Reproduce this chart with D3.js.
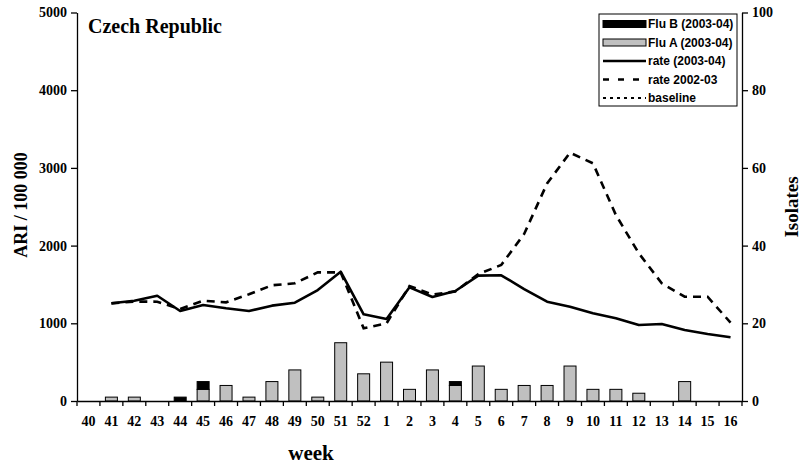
<!DOCTYPE html>
<html>
<head>
<meta charset="utf-8">
<script src="https://cdn.jsdelivr.net/npm/d3@7"></script>
<style>
  html, body { margin: 0; padding: 0; background: #fff; }
  svg { display: block; }
</style>
</head>
<body>
<svg id="chart" width="805" height="470"></svg>
<script>
// Weekly categories of the 2003-04 season
const weeks = ["40","41","42","43","44","45","46","47","48","49","50","51","52",
               "1","2","3","4","5","6","7","8","9","10","11","12","13","14","15","16"];

// Virus isolates per week (right axis)
const fluA = [0,1,1,0,0,3,4,1,5,8,1,15,7,10,3,8,4,9,3,4,4,9,3,3,2,0,5,0,0];
const fluB = [0,0,0,0,1,2,0,0,0,0,0,0,0,0,0,0,1,0,0,0,0,0,0,0,0,0,0,0,0];

// ARI rate per 100 000 (left axis); null = no value that week
const rate0304 = [null,1257,1290,1355,1158,1235,1193,1158,1227,1265,1428,1664,1116,
                  1055,1463,1338,1416,1613,1618,1441,1278,1214,1129,1064,978,991,914,862,820];
const rate0203 = [null,1257,1280,1278,1184,1291,1270,1373,1489,1515,1656,1656,936,
                  1000,1480,1370,1410,1634,1750,2150,2800,3196,3059,2394,1901,1515,1342,1342,1008];

const leftTicks = [0,1000,2000,3000,4000,5000];
const rightTicks = [0,20,40,60,80,100];

const legendItems = [
  {label: "Flu B (2003-04)", kind: "barB"},
  {label: "Flu A (2003-04)", kind: "barA"},
  {label: "rate (2003-04)", kind: "solid"},
  {label: "rate 2002-03", kind: "dash"},
  {label: "baseline", kind: "dot"}
];

const svg = d3.select("#chart");
const m = {left: 77, right: 742, top: 12.5, bottom: 401};
const serif = "'Liberation Serif','Times New Roman',serif";
const sans = "'Liberation Sans',Arial,sans-serif";

const x = d3.scaleBand().domain(weeks).range([m.left, m.right]);
const yL = d3.scaleLinear().domain([0, 5000]).range([m.bottom, m.top]);
const yR = d3.scaleLinear().domain([0, 100]).range([m.bottom, m.top]);

// Bars: stacked Flu A (bottom) and Flu B (top)
const barW = 12;
const bars = svg.append("g");
weeks.forEach((w, i) => {
  const cx = x(w) + x.bandwidth() / 2;
  if (fluA[i] > 0) {
    bars.append("rect")
      .attr("x", cx - barW / 2).attr("width", barW)
      .attr("y", yR(fluA[i])).attr("height", yR(0) - yR(fluA[i]))
      .attr("fill", "#c0c0c0").attr("stroke", "#000").attr("stroke-width", 1);
  }
  if (fluB[i] > 0) {
    bars.append("rect")
      .attr("x", cx - barW / 2).attr("width", barW)
      .attr("y", yR(fluA[i] + fluB[i])).attr("height", yR(fluA[i]) - yR(fluA[i] + fluB[i]))
      .attr("fill", "#000").attr("stroke", "#000").attr("stroke-width", 1);
  }
});

// Rate lines
const line = d3.line()
  .defined(d => d != null)
  .x((d, i) => x(weeks[i]) + x.bandwidth() / 2)
  .y(d => yL(d));

svg.append("path").datum(rate0203)
  .attr("d", line).attr("fill", "none").attr("stroke", "#000")
  .attr("stroke-width", 2.6).attr("stroke-dasharray", "8,6");

svg.append("path").datum(rate0304)
  .attr("d", line).attr("fill", "none").attr("stroke", "#000")
  .attr("stroke-width", 2.6).attr("stroke-linejoin", "round");

// Axes
function styleAxis(g, fontSize) {
  g.select(".domain").attr("stroke", "#000").attr("stroke-width", 1.3);
  g.selectAll(".tick line").attr("stroke", "#000").attr("stroke-width", 1.3);
  g.selectAll(".tick text")
    .attr("font-family", serif).attr("font-weight", "bold")
    .attr("font-size", fontSize).attr("fill", "#000");
}

const axL = svg.append("g").attr("transform", `translate(${m.left},0)`)
  .call(d3.axisLeft(yL).tickValues(leftTicks).tickSize(6).tickSizeOuter(0).tickPadding(4).tickFormat(d3.format("d")));
styleAxis(axL, 14);

const axR = svg.append("g").attr("transform", `translate(${m.right},0)`)
  .call(d3.axisRight(yR).tickValues(rightTicks).tickSize(6).tickSizeOuter(0).tickPadding(4).tickFormat(d3.format("d")));
styleAxis(axR, 14);

const axB = svg.append("g").attr("transform", `translate(0,${m.bottom})`)
  .call(d3.axisBottom(x).tickSize(0).tickPadding(15));
styleAxis(axB, 14);
// tick marks between categories
axB.selectAll(".sep").data(weeks.concat(["end"])).enter().append("line")
  .attr("class", "sep")
  .attr("x1", (d, i) => m.left + i * x.bandwidth())
  .attr("x2", (d, i) => m.left + i * x.bandwidth())
  .attr("y1", 0).attr("y2", 5)
  .attr("stroke", "#000").attr("stroke-width", 1.3);

// Axis titles
svg.append("text").attr("x", 311).attr("y", 460).attr("text-anchor", "middle")
  .attr("font-family", serif).attr("font-weight", "bold").attr("font-size", 21)
  .text("week");

svg.append("text").attr("transform", "translate(27,205) rotate(-90)")
  .attr("text-anchor", "middle")
  .attr("font-family", serif).attr("font-weight", "bold").attr("font-size", 18)
  .text("ARI / 100 000");

svg.append("text").attr("transform", "translate(798,207) rotate(-90)")
  .attr("text-anchor", "middle")
  .attr("font-family", serif).attr("font-weight", "bold").attr("font-size", 19)
  .text("Isolates");

// Chart title
svg.append("text").attr("x", 88).attr("y", 33)
  .attr("font-family", serif).attr("font-weight", "bold").attr("font-size", 20)
  .text("Czech Republic");

// Legend
const lg = svg.append("g");
lg.append("rect").attr("x", 599).attr("y", 14).attr("width", 138).attr("height", 92)
  .attr("fill", "#fff").attr("stroke", "#000").attr("stroke-width", 1);
const rowY = d3.scalePoint().domain(legendItems.map(d => d.label)).range([24, 98]);
legendItems.forEach(it => {
  const cy = rowY(it.label);
  if (it.kind === "barB" || it.kind === "barA") {
    lg.append("rect").attr("x", 603).attr("y", cy - 3.5).attr("width", 43).attr("height", 7)
      .attr("fill", it.kind === "barB" ? "#000" : "#c0c0c0")
      .attr("stroke", "#000").attr("stroke-width", 1);
  } else {
    const l = lg.append("line").attr("x1", 603).attr("x2", 646).attr("y1", cy).attr("y2", cy)
      .attr("stroke", "#000");
    if (it.kind === "solid") l.attr("stroke-width", 2.4);
    if (it.kind === "dash") l.attr("stroke-width", 2.6).attr("stroke-dasharray", "6,9");
    if (it.kind === "dot") l.attr("stroke-width", 1.8).attr("stroke-dasharray", "3,4");
  }
  lg.append("text").attr("x", 648).attr("y", cy).attr("dy", "0.35em")
    .attr("font-family", sans).attr("font-weight", "bold").attr("font-size", 12)
    .text(it.label);
});
</script>
</body>
</html>
